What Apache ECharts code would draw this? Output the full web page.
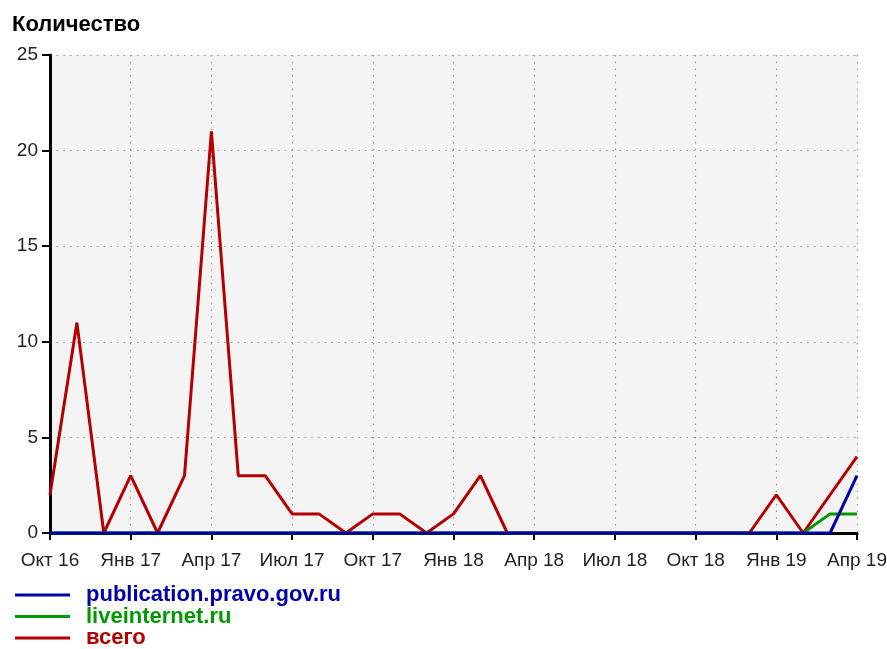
<!DOCTYPE html>
<html>
<head>
<meta charset="utf-8">
<script src="https://cdn.jsdelivr.net/npm/echarts@6/dist/echarts.min.js"></script>
<style>
  html, body { margin: 0; padding: 0; background: #fff; }
  #chart { width: 887px; height: 649px; }
</style>
</head>
<body>
<div id="chart"></div>
<script>
// Monthly counts, October 2016 – April 2019
const months = [
  'Окт 16', 'Ноя 16', 'Дек 16',
  'Янв 17', 'Фев 17', 'Мар 17', 'Апр 17', 'Май 17', 'Июн 17',
  'Июл 17', 'Авг 17', 'Сен 17', 'Окт 17', 'Ноя 17', 'Дек 17',
  'Янв 18', 'Фев 18', 'Мар 18', 'Апр 18', 'Май 18', 'Июн 18',
  'Июл 18', 'Авг 18', 'Сен 18', 'Окт 18', 'Ноя 18', 'Дек 18',
  'Янв 19', 'Фев 19', 'Мар 19', 'Апр 19'
];

const seriesNames = ['publication.pravo.gov.ru', 'liveinternet.ru', 'всего'];

const pravoValues = [
  0, 0, 0, 0, 0, 0, 0, 0, 0, 0, 0, 0, 0, 0, 0,
  0, 0, 0, 0, 0, 0, 0, 0, 0, 0, 0, 0, 0, 0, 0, 3
];

const liveinternetValues = [
  0, 0, 0, 0, 0, 0, 0, 0, 0, 0, 0, 0, 0, 0, 0,
  0, 0, 0, 0, 0, 0, 0, 0, 0, 0, 0, 0, 0, 0, 1, 1
];

const totalValues = [
  2, 11, 0, 3, 0, 3, 21, 3, 3, 1, 1, 0, 1, 1, 0,
  1, 3, 0, 0, 0, 0, 0, 0, 0, 0, 0, 0, 2, 0, 2, 4
];

const yTicks = { min: 0, max: 25, step: 5 };

const colors = { pravo: '#0000a8', live: '#009a00', total: '#b40000' };
const font = '"Liberation Sans", Arial, sans-serif';

const chart = echarts.init(document.getElementById('chart'), null, { renderer: 'canvas' });

const dotted = { color: '#959595', width: 1.2, type: [1.5, 5.2] };

// One legend row per series, stacked under the plot
const legendRowTops = [584, 605.5, 627];
const legendColors = [colors.pravo, colors.live, colors.total];
const legends = seriesNames.map((name, i) => ({
  orient: 'vertical',
  left: 15,
  top: legendRowTops[i],
  padding: 0,
  itemGap: 0,
  itemWidth: 55,
  itemHeight: 3,
  icon: 'rect',
  data: [{ name: name, textStyle: { color: legendColors[i] } }],
  textStyle: {
    fontFamily: font, fontWeight: 'bold', fontSize: 22,
    lineHeight: 21.5, padding: [0, 0, 0, 11]
  }
}));

chart.setOption({
  animation: false,
  backgroundColor: '#ffffff',
  title: {
    text: 'Количество',
    left: 7,
    top: 9,
    textStyle: { fontFamily: font, fontWeight: 'bold', fontSize: 22, color: '#000' }
  },
  grid: {
    left: 50, right: 30, top: 55, bottom: 116,
    containLabel: false,
    outerBoundsMode: 'none',
    show: true, backgroundColor: '#f4f4f4', borderWidth: 0
  },
  legend: legends,
  xAxis: {
    type: 'category',
    data: months,
    boundaryGap: false,
    offset: 2,
    axisLine: { lineStyle: { color: '#000', width: 3 } },
    axisTick: { interval: 2, length: 7, lineStyle: { color: '#000', width: 2 } },
    axisLabel: {
      interval: 2, margin: 16, color: '#222',
      fontFamily: font, fontSize: 19
    },
    splitLine: { show: true, interval: 2, lineStyle: dotted }
  },
  yAxis: {
    type: 'value',
    min: yTicks.min, max: yTicks.max, interval: yTicks.step,
    axisLine: { show: true, lineStyle: { color: '#000', width: 3 } },
    axisTick: { show: true, length: 8, lineStyle: { color: '#000', width: 2 } },
    axisLabel: { margin: 12, color: '#222', fontFamily: font, fontSize: 19 },
    splitLine: { show: true, lineStyle: dotted }
  },
  series: [
    {
      name: seriesNames[2], type: 'line', data: totalValues,
      symbol: 'none', z: 3,
      lineStyle: { color: colors.total, width: 3 },
      itemStyle: { color: colors.total }
    },
    {
      name: seriesNames[1], type: 'line', data: liveinternetValues,
      symbol: 'none', z: 4,
      lineStyle: { color: colors.live, width: 3 },
      itemStyle: { color: colors.live }
    },
    {
      name: seriesNames[0], type: 'line', data: pravoValues,
      symbol: 'none', z: 5,
      lineStyle: { color: colors.pravo, width: 3 },
      itemStyle: { color: colors.pravo }
    }
  ]
});
</script>
</body>
</html>
